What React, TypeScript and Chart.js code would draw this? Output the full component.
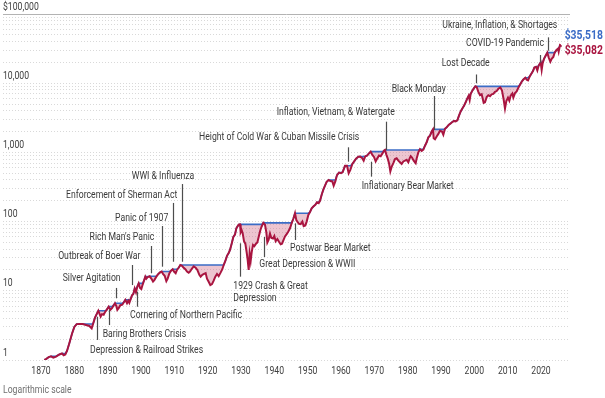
import React, { useEffect, useRef } from 'react';
import { Chart, registerables } from 'chart.js';

Chart.register(...registerables);

// ---- Data ----
const years = [
  1871.0, 1871.5, 1872.3, 1873.0, 1873.7, 1874.5, 1875.5, 1876.3, 1876.8, 1877.3,
  1877.8, 1878.5, 1879.3, 1880.0, 1880.7, 1881.5, 1882.5, 1883.5, 1884.5, 1885.2,
  1885.6, 1886.2, 1886.7, 1887.2, 1887.6, 1887.9, 1888.3, 1888.8, 1889.3, 1889.7,
  1890.3, 1890.8, 1891.3, 1891.8, 1892.2, 1892.6, 1892.9, 1893.3, 1893.8, 1894.4,
  1894.9, 1895.3, 1895.8, 1896.2, 1896.5, 1896.9, 1897.3, 1897.7, 1898.1, 1898.5,
  1898.9, 1899.3, 1899.7, 1900.1, 1900.5, 1900.9, 1901.3, 1901.6, 1902.0, 1902.6,
  1903.1, 1903.6, 1904.0, 1904.6, 1905.2, 1905.8, 1906.2, 1906.6, 1907.1, 1907.6,
  1908.0, 1908.5, 1909.0, 1909.5, 1909.9, 1910.4, 1910.8, 1911.3, 1911.8, 1912.3,
  1912.8, 1913.3, 1913.8, 1914.3, 1914.7, 1915.3, 1915.8, 1916.4, 1916.9, 1917.5,
  1917.9, 1918.4, 1918.9, 1919.4, 1919.8, 1920.3, 1920.8, 1921.3, 1921.8, 1922.3,
  1922.8, 1923.3, 1923.8, 1924.4, 1924.8, 1925.3, 1925.8, 1926.3, 1926.7, 1927.2,
  1927.7, 1928.2, 1928.6, 1929.0, 1929.4, 1929.7, 1929.9, 1930.2, 1930.5, 1930.9,
  1931.3, 1931.7, 1932.0, 1932.3, 1932.6, 1932.9, 1933.2, 1933.6, 1934.0, 1934.5,
  1934.9, 1935.3, 1935.8, 1936.2, 1936.7, 1937.2, 1937.6, 1937.9, 1938.3, 1938.7,
  1939.1, 1939.6, 1940.0, 1940.4, 1940.9, 1941.4, 1941.9, 1942.3, 1942.8, 1943.2,
  1943.7, 1944.2, 1944.7, 1945.2, 1945.7, 1946.2, 1946.6, 1947.0, 1947.4, 1947.9,
  1948.4, 1948.8, 1949.3, 1949.7, 1950.2, 1950.7, 1951.2, 1951.7, 1952.3, 1952.8,
  1953.3, 1953.7, 1954.2, 1954.7, 1955.2, 1955.7, 1956.3, 1956.8, 1957.4, 1957.8,
  1958.3, 1958.8, 1959.4, 1960.0, 1960.5, 1961.2, 1961.8, 1962.3, 1962.8, 1963.4,
  1963.9, 1964.5, 1965.2, 1965.7, 1966.3, 1966.8, 1967.3, 1967.8, 1968.4, 1968.9,
  1969.4, 1969.9, 1970.4, 1970.9, 1971.4, 1971.9, 1972.4, 1972.9, 1973.2, 1973.6,
  1974.0, 1974.4, 1974.8, 1975.2, 1975.7, 1976.2, 1976.7, 1977.2, 1977.7, 1978.2,
  1978.7, 1979.2, 1979.7, 1980.2, 1980.6, 1980.9, 1981.3, 1981.8, 1982.4, 1982.7,
  1983.2, 1983.7, 1984.2, 1984.7, 1985.2, 1985.7, 1986.2, 1986.7, 1987.2, 1987.6,
  1987.8, 1988.2, 1988.7, 1989.2, 1989.7, 1990.3, 1990.7, 1991.2, 1991.7, 1992.3,
  1992.8, 1993.4, 1993.9, 1994.4, 1994.9, 1995.4, 1995.9, 1996.4, 1996.9, 1997.4,
  1997.8, 1998.3, 1998.6, 1998.9, 1999.4, 1999.9, 2000.3, 2000.7, 2001.2, 2001.7,
  2002.2, 2002.8, 2003.2, 2003.7, 2004.2, 2004.7, 2005.2, 2005.7, 2006.2, 2006.7,
  2007.2, 2007.8, 2008.3, 2008.8, 2009.2, 2009.6, 2010.1, 2010.5, 2010.9, 2011.4,
  2011.7, 2012.2, 2012.7, 2013.2, 2013.7, 2014.2, 2014.7, 2015.3, 2015.7, 2016.1,
  2016.6, 2017.1, 2017.6, 2018.0, 2018.5, 2018.9, 2019.3, 2019.9, 2020.2, 2020.5,
  2020.9, 2021.3, 2021.9, 2022.3, 2022.8, 2023.2, 2023.7, 2024.1, 2024.6, 2025.1,
  2025.3, 2025.7, 2025.9,
];

const totalReturn = [
  1.0, 1.03, 1.1, 1.13, 1.08, 1.12, 1.2, 1.24, 1.17, 1.2,
  1.35, 1.75, 2.4, 3.0, 3.3, 3.32, 3.31, 3.2, 3.1, 2.87,
  3.3, 4.1, 4.6, 5.16, 4.6, 4.23, 4.6, 4.5, 5.0, 5.3,
  5.9, 5.3, 5.6, 6.2, 6.6, 6.0, 5.3, 5.6, 6.2, 6.3,
  6.9, 7.4, 6.6, 7.2, 6.7, 7.6, 8.6, 9.0, 10.8, 9.5,
  11.5, 12.8, 11.0, 10.6, 12.3, 14.0, 16.0, 15.0, 15.8, 16.2,
  15.0, 13.6, 14.3, 16.0, 17.5, 18.6, 19.0, 17.6, 16.5, 13.8,
  15.0, 17.8, 19.5, 20.5, 19.0, 18.0, 20.0, 21.5, 23.6, 23.0,
  21.5, 20.5, 19.0, 18.3, 19.0, 21.0, 22.5, 21.5, 20.0, 17.0,
  16.0, 17.0, 17.5, 18.0, 15.0, 13.5, 12.1, 12.5, 14.0, 16.0,
  17.5, 16.3, 18.0, 20.5, 23.6, 27, 32, 35, 39, 48,
  60, 65, 80, 86, 91, 91.3, 70, 75, 68, 52,
  48, 36, 28, 20, 34, 27, 36, 46, 44, 48,
  50, 60, 75, 85, 96, 90, 70, 50, 55, 67,
  58, 57, 62, 52, 56, 51, 47, 48, 55, 61,
  66, 72, 80, 95, 110, 132, 105, 98, 93, 92,
  100, 86, 88, 100, 125, 138, 155, 165, 175, 190,
  185, 200, 245, 290, 330, 376, 400, 385, 380, 330,
  380, 470, 510, 500, 520, 640, 640, 500, 560, 680,
  735, 810, 865, 870, 830, 760, 880, 900, 970, 1025,
  920, 860, 740, 820, 900, 880, 960, 1060, 1085, 930,
  820, 700, 530, 620, 700, 800, 820, 760, 720, 680,
  740, 760, 780, 720, 820, 880, 840, 760, 700, 820,
  1000, 1110, 1050, 1100, 1250, 1400, 1650, 1750, 2000, 2150,
  1600, 1550, 1700, 1850, 2050, 2000, 1800, 2200, 2300, 2500,
  2600, 2750, 2850, 2800, 2900, 3400, 3900, 4300, 4700, 5300,
  5900, 6600, 5700, 7000, 7800, 8500, 9000, 8800, 7500, 6700,
  6900, 5200, 5300, 6300, 6700, 6500, 6900, 7000, 7500, 7700,
  8300, 8700, 7800, 5800, 4300, 5500, 6200, 5600, 6600, 7100,
  6200, 7200, 7600, 8600, 9500, 10500, 11300, 12000, 11200, 11000,
  12500, 13700, 15000, 16800, 17200, 15300, 18000, 20000, 15500, 19500,
  22500, 24500, 27700, 23500, 20400, 22500, 24000, 27500, 30000, 31500,
  28500, 35518, 35082,
];

// Previous peak (running maximum of the series) — blue line
const previousPeak: number[] = totalReturn.reduce((acc: number[], v, i) => {
  acc.push(i === 0 ? v : Math.max(acc[i - 1], v));
  return acc;
}, []);

const xTickYears = [1870, 1880, 1890, 1900, 1910, 1920, 1930, 1940, 1950, 1960, 1970, 1980, 1990, 2000, 2010, 2020];
const yMajorTicks = [1, 10, 100, 1000, 10000, 100000];
const yTickLabels = ['1', '10', '100', '1,000', '10,000', '$100,000'];

const endPeakLabel = '$35,518';
const endValueLabel = '$35,082';
const captionText = 'Logarithmic scale';

type Note = {
  text: string[];
  at: [number, number];
  align: CanvasTextAlign;
  leader?: [number, number, number];
};

// Event annotations: text anchor [year, value], leader [year, fromValue, toValue]
const events: Note[] = [
  { text: ['Depression & Railroad Strikes'], at: [1884.7, 1.39], align: 'left', leader: [1886.7, 4.22, 1.95] },
  { text: ['Baring Brothers Crisis'], at: [1888.5, 2.37], align: 'left', leader: [1890.3, 5.28, 3.2] },
  { text: ['Cornering of Northern Pacific'], at: [1896.7, 4.37], align: 'left', leader: [1898.9, 9.7, 5.89] },
  { text: ['Silver Agitation'], at: [1885.2, 15.2], align: 'center', leader: [1892.5, 11.0, 7.79] },
  { text: ['Outbreak of Boer War'], at: [1887.5, 31.1], align: 'center', leader: [1897.3, 23.6, 12.1] },
  { text: ["Rich Man's Panic"], at: [1894.3, 59.3], align: 'center', leader: [1902.9, 44.4, 17.9] },
  { text: ['Panic of 1907'], at: [1900.2, 112], align: 'center', leader: [1906.2, 86.3, 22.3] },
  { text: ['Enforcement of Sherman Act'], at: [1894.2, 237], align: 'center', leader: [1909.5, 186, 26.3] },
  { text: ['WWI & Influenza'], at: [1906.6, 446], align: 'center', leader: [1912.4, 349, 26.3] },
  { text: ['1929 Crash & Great', 'Depression'], at: [1927.7, 11.5], align: 'left', leader: [1929.7, 48.6, 16.0] },
  { text: ['Great Depression & WWII'], at: [1935.5, 23.6], align: 'left', leader: [1936.75, 59.9, 30.8] },
  { text: ['Postwar Bear Market'], at: [1944.7, 41.1], align: 'left', leader: [1946.3, 94.5, 54.2] },
  { text: ['Inflationary Bear Market'], at: [1966.2, 319], align: 'left', leader: [1969.0, 734, 446] },
  { text: ['Height of Cold War & Cuban Missile Crisis'], at: [1965.5, 1652], align: 'right', leader: [1962.0, 1185, 734] },
  { text: ['Inflation, Vietnam, & Watergate'], at: [1940.7, 3800], align: 'left', leader: [1973.4, 2779, 1083] },
  { text: ['Black Monday'], at: [1975.2, 8170], align: 'left', leader: [1987.8, 6535, 2108] },
  { text: ['Lost Decade'], at: [1990.2, 19140], align: 'left', leader: [2000.5, 13370, 9970] },
  { text: ['COVID-19 Pandemic'], at: [2020.9, 37720], align: 'right', leader: [2019.7, 25570, 19780] },
  { text: ['Ukraine, Inflation, & Shortages'], at: [2024.9, 67100], align: 'right', leader: [2022.2, 46000, 29500] },
];

const FONT = 'Roboto, "Liberation Sans", sans-serif';
const RED = '#a91540';
const BLUE = '#3b6cc6';
const PINK = 'rgba(205, 95, 125, 0.36)';
const TEXT = '#3a3a3a';

// Condensed text: draw with a horizontal squeeze (the reference uses a condensed face)
function drawText(
  ctx: CanvasRenderingContext2D,
  text: string,
  x: number,
  y: number,
  align: CanvasTextAlign,
  font: string,
  color: string,
  sx: number
) {
  ctx.save();
  ctx.font = font;
  ctx.fillStyle = color;
  ctx.textAlign = align;
  ctx.textBaseline = 'middle';
  ctx.translate(x, y);
  ctx.scale(sx, 1);
  ctx.fillText(text, 0, 0);
  ctx.restore();
}

const textPlugin = {
  id: 'eventNotes',
  afterDatasetsDraw(chart: any) {
    const { ctx, scales, chartArea } = chart;
    const x = scales.x;
    const y = scales.y;
    const baseFont = `10px ${FONT}`;
    ctx.save();
    ctx.font = baseFont;
    const sx = 115 / ctx.measureText('Ukraine, Inflation, & Shortages').width;
    ctx.restore();

    // Axis tick labels
    xTickYears.forEach((yr) => {
      drawText(ctx, String(yr), x.getPixelForValue(yr), chartArea.bottom + 11, 'center', baseFont, '#404040', sx);
    });
    yMajorTicks.forEach((v, i) => {
      drawText(ctx, yTickLabels[i], chartArea.left, y.getPixelForValue(v) - 7, 'left', baseFont, '#404040', sx);
    });

    // Leaders + event labels
    ctx.save();
    for (const n of events) {
      if (n.leader) {
        const px = Math.round(x.getPixelForValue(n.leader[0])) + 0.5;
        ctx.strokeStyle = '#4d4d4d';
        ctx.lineWidth = 1.2;
        ctx.beginPath();
        ctx.moveTo(px, y.getPixelForValue(n.leader[1]));
        ctx.lineTo(px, y.getPixelForValue(n.leader[2]));
        ctx.stroke();
      }
    }
    ctx.restore();
    for (const n of events) {
      const tx = x.getPixelForValue(n.at[0]);
      const ty = y.getPixelForValue(n.at[1]);
      n.text.forEach((line, i) => drawText(ctx, line, tx, ty + i * 11.6, n.align, baseFont, TEXT, sx));
    }

    // End-value labels
    const lastYear = years[years.length - 1];
    const lx = x.getPixelForValue(lastYear) + 4;
    const lastPeak = previousPeak[previousPeak.length - 1];
    const lastVal = totalReturn[totalReturn.length - 1];
    const boldFont = `bold 12px ${FONT}`;
    drawText(ctx, endPeakLabel, lx, y.getPixelForValue(lastPeak) - 9, 'left', boldFont, BLUE, sx);
    drawText(ctx, endValueLabel, lx, y.getPixelForValue(lastVal) + 6, 'left', boldFont, RED, sx);

    // Caption
    drawText(ctx, captionText, chartArea.left, chartArea.bottom + 30, 'left', baseFont, '#707070', sx);
  },
};

export default function App() {
  const ref = useRef<HTMLCanvasElement | null>(null);

  useEffect(() => {
    if (!ref.current) return;
    const redPoints = years.map((yr, i) => ({ x: yr, y: totalReturn[i] }));
    const peakPoints = years.map((yr, i) => ({ x: yr, y: previousPeak[i] }));
    const chart = new Chart(ref.current, {
      type: 'line',
      data: {
        datasets: [
          {
            label: 'Total return',
            data: redPoints,
            borderColor: RED,
            borderWidth: 2,
            pointRadius: 0,
            tension: 0,
            fill: false,
          },
          {
            label: 'Previous peak',
            data: peakPoints,
            borderColor: BLUE,
            borderWidth: 1.6,
            pointRadius: 0,
            tension: 0,
            fill: { target: 0 },
            backgroundColor: PINK,
          },
        ],
      },
      options: {
        responsive: false,
        animation: false,
        events: [],
        layout: { padding: { left: 3, right: 35, top: 14, bottom: 0 } },
        plugins: {
          legend: { display: false },
          tooltip: { enabled: false },
          title: { display: false },
        },
        scales: {
          x: {
            type: 'linear',
            min: 1858.6,
            max: 2028.7,
            afterBuildTicks: (axis: any) => {
              axis.ticks = xTickYears.map((v) => ({ value: v }));
            },
            afterFit: (axis: any) => {
              axis.height = 38;
            },
            grid: { display: false, drawTicks: false },
            border: { display: false },
            ticks: { display: false },
          },
          y: {
            type: 'logarithmic',
            min: 1,
            max: 100000,
            afterBuildTicks: (axis: any) => {
              const t: { value: number }[] = [];
              for (let k = 0; k < 5; k++) {
                for (let m = 1; m <= 9; m++) t.push({ value: m * Math.pow(10, k) });
              }
              t.push({ value: 100000 });
              axis.ticks = t;
            },
            afterFit: (axis: any) => {
              axis.width = 0;
            },
            grid: {
              drawTicks: false,
              lineWidth: 1,
              color: (c: any) => (c.tick && c.tick.value === 100000 ? '#b3b3b3' : '#d9d9d9'),
            },
            border: {
              display: false,
              dash: (c: any) => (c.tick && c.tick.value === 100000 ? [] : [1, 2]),
            },
            ticks: { display: false, autoSkip: false },
          },
        },
      },
      plugins: [textPlugin],
    });
    return () => chart.destroy();
  }, []);

  return (
    <div style={{ position: 'fixed', left: 0, top: 0, width: 605, height: 398, background: '#fff' }}>
      <canvas ref={ref} width={605} height={398} style={{ display: 'block' }} />
    </div>
  );
}
